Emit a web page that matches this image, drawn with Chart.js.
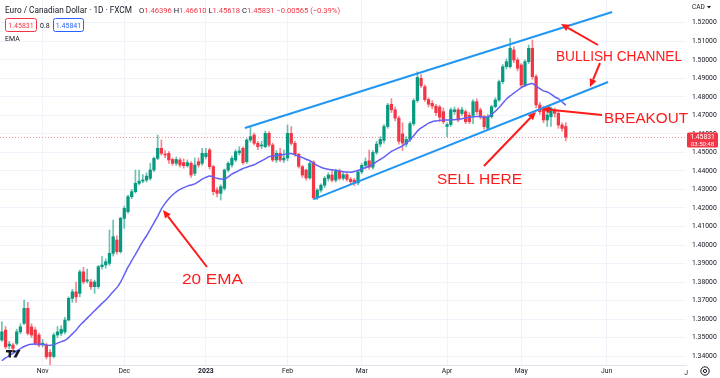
<!DOCTYPE html>
<html>
<head>
<meta charset="utf-8">
<script src="https://cdn.jsdelivr.net/npm/chart.js@4.4.1/dist/chart.umd.min.js"></script>
<style>
  html, body { margin: 0; padding: 0; background: #fff; }
  #wrap { width: 720px; height: 378px; }
</style>
</head>
<body>
<div id="wrap"><canvas id="fxChart" width="720" height="378"></canvas></div>
<script>
// EUR/CAD daily candles, one per weekday from 17 Oct 2022 (index 0) to 17 May 2023
const opens = [
  1.3487,1.3541,1.3455,1.3460,1.3469,1.3531,1.3577,1.3658,1.3558,1.3541,
  1.3514,1.3462,1.3459,1.3420,1.3398,1.3514,1.3523,1.3531,1.3595,1.3712,
  1.3747,1.3739,1.3855,1.3805,1.3801,1.3775,1.3775,1.3883,1.3892,1.3901,
  1.3955,1.4027,1.3964,1.4144,1.4180,1.4261,1.4288,1.4333,1.4345,1.4351,
  1.4360,1.4405,1.4468,1.4522,1.4490,1.4495,1.4462,1.4441,1.4459,1.4445,
  1.4428,1.4441,1.4387,1.4450,1.4441,1.4477,1.4513,1.4423,1.4297,1.4279,
  1.4306,1.4405,1.4432,1.4459,1.4498,1.4522,1.4450,1.4567,1.4594,1.4549,
  1.4535,1.4531,1.4603,1.4540,1.4459,1.4495,1.4459,1.4470,1.4603,1.4549,
  1.4490,1.4423,1.4405,1.4362,1.4448,1.4255,1.4296,1.4323,1.4360,1.4378,
  1.4350,1.4400,1.4360,1.4380,1.4355,1.4350,1.4335,1.4395,1.4430,1.4455,
  1.4420,1.4500,1.4545,1.4565,1.4640,1.4760,1.4730,1.4685,1.4600,1.4545,
  1.4570,1.4655,1.4780,1.4900,1.4855,1.4785,1.4765,1.4750,1.4745,1.4720,
  1.4640,1.4650,1.4720,1.4730,1.4710,1.4720,1.4700,1.4700,1.4774,1.4729,
  1.4693,1.4630,1.4693,1.4747,1.4783,1.4882,1.4963,1.4963,1.5053,1.4999,
  1.4972,1.4864,1.4990,1.5062,1.4909,1.4756,1.4738,1.4675,1.4693,1.4729,
  1.4711,1.4648,1.4640
];
const highs = [
  1.3585,1.3560,1.3480,1.3470,1.3545,1.3575,1.3703,1.3690,1.3575,1.3555,
  1.3525,1.3490,1.3470,1.3435,1.3525,1.3560,1.3565,1.3610,1.3720,1.3760,
  1.3800,1.3865,1.3880,1.3870,1.3815,1.3810,1.3890,1.3937,1.3925,1.4081,
  1.4135,1.4050,1.4150,1.4210,1.4270,1.4300,1.4405,1.4405,1.4380,1.4390,
  1.4441,1.4475,1.4593,1.4567,1.4510,1.4505,1.4470,1.4475,1.4470,1.4465,
  1.4460,1.4450,1.4470,1.4470,1.4522,1.4522,1.4522,1.4430,1.4310,1.4325,
  1.4410,1.4450,1.4480,1.4515,1.4531,1.4530,1.4575,1.4639,1.4605,1.4560,
  1.4560,1.4615,1.4612,1.4550,1.4510,1.4522,1.4513,1.4648,1.4640,1.4560,
  1.4495,1.4430,1.4410,1.4450,1.4455,1.4305,1.4330,1.4370,1.4390,1.4405,
  1.4410,1.4410,1.4395,1.4390,1.4365,1.4360,1.4405,1.4440,1.4470,1.4513,
  1.4510,1.4560,1.4585,1.4650,1.4765,1.4790,1.4745,1.4695,1.4660,1.4585,
  1.4665,1.4790,1.4935,1.4920,1.4865,1.4795,1.4780,1.4760,1.4755,1.4740,
  1.4660,1.4740,1.4745,1.4740,1.4745,1.4730,1.4715,1.4785,1.4790,1.4740,
  1.4700,1.4705,1.4755,1.4795,1.4890,1.4975,1.5005,1.5116,1.5070,1.5010,
  1.4980,1.5000,1.5080,1.5107,1.4920,1.4770,1.4750,1.4720,1.4745,1.4740,
  1.4725,1.4660,1.4661
];
const lows = [
  1.3480,1.3440,1.3440,1.3430,1.3460,1.3520,1.3570,1.3515,1.3500,1.3460,
  1.3450,1.3450,1.3385,1.3352,1.3390,1.3500,1.3510,1.3520,1.3590,1.3690,
  1.3690,1.3720,1.3790,1.3795,1.3760,1.3739,1.3765,1.3870,1.3875,1.3890,
  1.3940,1.3950,1.3955,1.4090,1.4170,1.4250,1.4280,1.4325,1.4335,1.4340,
  1.4350,1.4396,1.4460,1.4485,1.4470,1.4440,1.4430,1.4430,1.4420,1.4415,
  1.4420,1.4365,1.4375,1.4420,1.4430,1.4465,1.4410,1.4270,1.4260,1.4243,
  1.4295,1.4395,1.4420,1.4450,1.4486,1.4435,1.4440,1.4555,1.4540,1.4515,
  1.4520,1.4525,1.4530,1.4450,1.4445,1.4450,1.4445,1.4455,1.4540,1.4480,
  1.4415,1.4365,1.4350,1.4355,1.4245,1.4245,1.4285,1.4310,1.4345,1.4340,
  1.4340,1.4350,1.4350,1.4345,1.4330,1.4320,1.4325,1.4385,1.4410,1.4410,
  1.4410,1.4490,1.4530,1.4550,1.4630,1.4715,1.4670,1.4545,1.4510,1.4530,
  1.4560,1.4645,1.4770,1.4850,1.4775,1.4745,1.4735,1.4700,1.4665,1.4655,
  1.4585,1.4640,1.4705,1.4665,1.4700,1.4655,1.4655,1.4655,1.4705,1.4680,
  1.4625,1.4620,1.4685,1.4740,1.4775,1.4870,1.4950,1.4955,1.4985,1.4940,
  1.4850,1.4855,1.4980,1.4895,1.4740,1.4705,1.4660,1.4640,1.4640,1.4690,
  1.4630,1.4615,1.4562
];
const closes = [
  1.3531,1.3450,1.3465,1.3442,1.3531,1.3558,1.3658,1.3523,1.3514,1.3469,
  1.3459,1.3470,1.3396,1.3398,1.3514,1.3531,1.3545,1.3595,1.3712,1.3747,
  1.3720,1.3855,1.3801,1.3812,1.3774,1.3800,1.3883,1.3892,1.3910,1.3955,
  1.4045,1.3964,1.4144,1.4198,1.4261,1.4288,1.4333,1.4345,1.4351,1.4372,
  1.4405,1.4468,1.4522,1.4495,1.4486,1.4459,1.4441,1.4462,1.4432,1.4428,
  1.4445,1.4378,1.4432,1.4432,1.4495,1.4495,1.4423,1.4288,1.4279,1.4315,
  1.4405,1.4441,1.4468,1.4504,1.4508,1.4445,1.4567,1.4585,1.4549,1.4531,
  1.4540,1.4603,1.4540,1.4459,1.4495,1.4459,1.4470,1.4603,1.4549,1.4490,
  1.4425,1.4378,1.4362,1.4440,1.4255,1.4296,1.4323,1.4360,1.4378,1.4350,
  1.4400,1.4360,1.4380,1.4355,1.4342,1.4335,1.4395,1.4430,1.4450,1.4420,
  1.4500,1.4545,1.4570,1.4640,1.4755,1.4730,1.4685,1.4560,1.4550,1.4570,
  1.4655,1.4780,1.4905,1.4860,1.4785,1.4760,1.4750,1.4715,1.4690,1.4666,
  1.4650,1.4730,1.4730,1.4675,1.4730,1.4666,1.4666,1.4774,1.4720,1.4693,
  1.4639,1.4693,1.4747,1.4783,1.4882,1.4963,1.4990,1.5062,1.4999,1.4954,
  1.4864,1.4990,1.5062,1.4909,1.4756,1.4720,1.4675,1.4702,1.4738,1.4711,
  1.4648,1.4630,1.4583
];
// 20 EMA
const ema20 = [
  1.3375,1.3390,1.3403,1.3415,1.3428,1.3440,1.3452,1.3460,1.3464,1.3465,
  1.3464,1.3463,1.3460,1.3458,1.3462,1.3470,1.3478,1.3485,1.3500,1.3520,
  1.3540,1.3565,1.3585,1.3605,1.3625,1.3645,1.3665,1.3685,1.3703,1.3725,
  1.3748,1.3770,1.3800,1.3840,1.3880,1.3915,1.3950,1.3985,1.4020,1.4050,
  1.4085,1.4120,1.4155,1.4195,1.4225,1.4250,1.4270,1.4287,1.4300,1.4310,
  1.4318,1.4324,1.4330,1.4342,1.4356,1.4365,1.4372,1.4368,1.4360,1.4356,
  1.4356,1.4368,1.4383,1.4393,1.4403,1.4413,1.4420,1.4427,1.4433,1.4444,
  1.4454,1.4465,1.4477,1.4480,1.4483,1.4486,1.4489,1.4493,1.4494,1.4486,
  1.4479,1.4472,1.4463,1.4455,1.4441,1.4430,1.4420,1.4413,1.4409,1.4406,
  1.4403,1.4400,1.4396,1.4394,1.4393,1.4397,1.4402,1.4412,1.4418,1.4425,
  1.4435,1.4450,1.4462,1.4475,1.4490,1.4505,1.4515,1.4525,1.4535,1.4550,
  1.4567,1.4590,1.4615,1.4632,1.4645,1.4658,1.4666,1.4670,1.4673,1.4675,
  1.4675,1.4676,1.4677,1.4678,1.4682,1.4686,1.4690,1.4692,1.4694,1.4693,
  1.4690,1.4692,1.4705,1.4722,1.4742,1.4765,1.4788,1.4805,1.4820,1.4835,
  1.4850,1.4860,1.4868,1.4872,1.4858,1.4845,1.4832,1.4826,1.4815,1.4800,
  1.4790,1.4773,1.4755
];

// hand-drawn channel lines: [bar index, price]
const upperChannel = [[65.5, 1.4632], [164.5, 1.5258]];
const lowerChannel = [[84.1, 1.4248], [163.4, 1.4880]];

// time axis: bar index of the first weekday of each month
const monthIndex = [11, 33, 55, 77, 97, 120, 140, 163, 185];
const monthText = ['Nov', 'Dec', '2023', 'Feb', 'Mar', 'Apr', 'May', 'Jun', 'Jul'];
const priceTicks = [1.34,1.35,1.36,1.37,1.38,1.39,1.40,1.41,1.42,1.43,1.44,1.45,1.46,1.47,1.48,1.49,1.50,1.51,1.52];

const UP = '#089981', DOWN = '#f23645';
const TXT = '#131722';
const FONT = 'Roboto, "Open Sans", sans-serif';
const X_MAX = 184.4;

const bars = opens.map((o, i) => i);
const isUp = i => closes[i] >= opens[i];

function fitScaled(ctx, text, x, y, width, size) {
  ctx.font = size + 'px "Liberation Sans Narrow", "Liberation Sans", sans-serif';
  const w = ctx.measureText(text).width;
  ctx.save();
  ctx.translate(x, y);
  ctx.scale(width / w, 1);
  ctx.fillText(text, 0, 0);
  ctx.restore();
}

function arrow(ctx, x1, y1, x2, y2) {
  const a = Math.atan2(y2 - y1, x2 - x1), L = 8, W = 3.6;
  const bx = x2 - L * Math.cos(a), by = y2 - L * Math.sin(a);
  ctx.beginPath();
  ctx.moveTo(x1, y1);
  ctx.lineTo(bx, by);
  ctx.stroke();
  ctx.beginPath();
  ctx.moveTo(x2, y2);
  ctx.lineTo(bx - W * Math.sin(a), by + W * Math.cos(a));
  ctx.lineTo(bx + W * Math.sin(a), by - W * Math.cos(a));
  ctx.closePath();
  ctx.fill();
}

function box(ctx, x, y, w, h, color) {
  ctx.strokeStyle = color;
  ctx.lineWidth = 1;
  ctx.beginPath();
  ctx.roundRect(x + 0.5, y + 0.5, w, h, 2);
  ctx.stroke();
}

// scales must not reserve room for their own labels
function noPadding(s) {
  s.paddingTop = 0; s.paddingBottom = 0; s.paddingLeft = 0; s.paddingRight = 0;
}

const overlay = {
  id: 'overlay',
  beforeDatasetsDraw(chart) {
    const { ctx, chartArea: a, scales: { y } } = chart;
    const py = Math.round(y.getPixelForValue(closes[closes.length - 1])) + 0.5;
    ctx.save();
    ctx.strokeStyle = 'rgba(242,54,69,0.55)';
    ctx.setLineDash([1, 2]);
    ctx.lineWidth = 1;
    ctx.beginPath();
    ctx.moveTo(a.left, py);
    ctx.lineTo(a.right, py);
    ctx.stroke();
    ctx.restore();
  },
  afterDatasetsDraw(chart) {
    const { ctx } = chart;
    ctx.save();
    ctx.fillStyle = '#ff1a1a';
    ctx.strokeStyle = '#ff1a1a';
    ctx.lineWidth = 2;
    fitScaled(ctx, 'BULLISH CHANNEL', 556, 61, 126, 15.5);
    fitScaled(ctx, 'BREAKOUT', 604, 123, 84, 15.5);
    fitScaled(ctx, 'SELL HERE', 437, 184, 85, 15.5);
    fitScaled(ctx, '20 EMA', 182, 284, 61, 15.5);
    arrow(ctx, 598, 45, 561, 24);
    arrow(ctx, 600, 63, 590, 87);
    arrow(ctx, 602, 115, 542, 109);
    arrow(ctx, 484, 166, 536, 112);
    arrow(ctx, 207, 267, 163, 210);
    ctx.restore();
  },
  afterDraw(chart) {
    const { ctx, chartArea: a, scales: { x, y } } = chart;
    ctx.save();
    ctx.textBaseline = 'alphabetic';
    ctx.textAlign = 'left';

    // title + OHLC
    ctx.font = '8px ' + FONT;
    const title = 'Euro / Canadian Dollar \u00b7 1D \u00b7 FXCM';
    const size = 8 * 127 / ctx.measureText(title).width;
    ctx.font = size + 'px ' + FONT;
    ctx.fillStyle = TXT;
    ctx.fillText(title, 5, 13);
    let cx = 139;
    const parts = [['O', TXT], ['1.46396', DOWN], [' H', TXT], ['1.46610', DOWN], [' L', TXT],
      ['1.45618', DOWN], [' C', TXT], ['1.45831', DOWN], [' \u22120.00565 (\u22120.39%)', DOWN]];
    ctx.font = (size * 0.92) + 'px ' + FONT;
    parts.forEach(([t, c]) => { ctx.fillStyle = c; ctx.fillText(t, cx, 13); cx += ctx.measureText(t).width; });

    // value boxes
    ctx.font = '7px ' + FONT;
    ctx.textAlign = 'center';
    box(ctx, 5, 18, 31, 13, DOWN);
    ctx.fillStyle = DOWN;
    ctx.fillText('1.45831', 21, 27.5);
    box(ctx, 53, 18, 30, 13, '#2962ff');
    ctx.fillStyle = '#2962ff';
    ctx.fillText('1.45841', 68.5, 27.5);
    ctx.textAlign = 'left';
    ctx.fillStyle = TXT;
    ctx.fillText('0.8', 40, 27.5);
    ctx.fillText('EMA', 5, 41);

    // price scale currency
    ctx.font = '6.5px ' + FONT;
    ctx.fillText('CAD', 692, 9);
    ctx.beginPath();
    ctx.moveTo(707, 6); ctx.lineTo(711, 6); ctx.lineTo(709, 8.5); ctx.closePath(); ctx.fill();

    // last price tag
    const py = y.getPixelForValue(closes[closes.length - 1]);
    ctx.fillStyle = DOWN;
    ctx.beginPath();
    ctx.roundRect(687, py - 4.5, 31, 15, 1.5);
    ctx.fill();
    ctx.fillStyle = '#fff';
    ctx.textAlign = 'center';
    ctx.font = '6.8px ' + FONT;
    ctx.fillText('1.45831', 702.5, py + 2.2);
    ctx.font = '6px ' + FONT;
    ctx.fillText('03:50:48', 702.5, py + 9);

    // month label half hidden under the price scale
    ctx.save();
    ctx.beginPath();
    ctx.rect(a.left, a.bottom, a.right - a.left + 2, 13);
    ctx.clip();
    ctx.fillStyle = TXT;
    ctx.textAlign = 'left';
    ctx.font = '6.8px ' + FONT;
    monthIndex.forEach((m, k) => {
      if (m > X_MAX) ctx.fillText(monthText[k], x.getPixelForValue(m) - 4, a.bottom + 9.5);
    });
    ctx.restore();

    // settings gear
    ctx.strokeStyle = TXT;
    ctx.lineWidth = 1;
    ctx.beginPath(); ctx.arc(705, 371, 4.2, 0, Math.PI * 2); ctx.stroke();
    ctx.beginPath(); ctx.arc(705, 371, 1.6, 0, Math.PI * 2); ctx.stroke();

    // TV logo
    ctx.fillStyle = TXT;
    ctx.fillRect(6, 350, 6.5, 2.4);
    ctx.fillRect(8.6, 350, 2.4, 7.5);
    ctx.beginPath(); ctx.arc(14.2, 351.3, 1.3, 0, Math.PI * 2); ctx.fill();
    ctx.beginPath();
    ctx.moveTo(17.5, 350); ctx.lineTo(20.5, 350); ctx.lineTo(16.5, 357.5); ctx.lineTo(13.5, 357.5);
    ctx.closePath(); ctx.fill();
    ctx.restore();
  }
};

const ctx = document.getElementById('fxChart').getContext('2d');
new Chart(ctx, {
  type: 'bar',
  data: {
    datasets: [
      {
        type: 'line', order: 0,
        data: upperChannel.map(([i, p]) => ({ x: i, y: p })),
        borderColor: '#2196f3', borderWidth: 2, pointRadius: 0
      },
      {
        type: 'line', order: 0,
        data: lowerChannel.map(([i, p]) => ({ x: i, y: p })),
        borderColor: '#2196f3', borderWidth: 2, pointRadius: 0
      },
      {
        type: 'line', order: 1,
        data: ema20.map((v, i) => ({ x: i, y: v })),
        borderColor: '#6361f5', borderWidth: 1.5, pointRadius: 0, tension: 0.3
      },
      {
        order: 2, grouped: false, barThickness: 2.6, minBarLength: 1,
        data: bars.map(i => ({ x: i, y: [opens[i], closes[i]] })),
        backgroundColor: bars.map(i => isUp(i) ? UP : DOWN)
      },
      {
        order: 3, grouped: false, barThickness: 1,
        data: bars.map(i => ({ x: i, y: [lows[i], highs[i]] })),
        backgroundColor: bars.map(i => isUp(i) ? 'rgba(8,153,129,0.6)' : 'rgba(242,54,69,0.6)')
      }
    ]
  },
  options: {
    responsive: false,
    animation: false,
    devicePixelRatio: 1,
    events: [],
    layout: { padding: 0 },
    plugins: { legend: { display: false }, tooltip: { enabled: false } },
    scales: {
      x: {
        type: 'linear', min: -0.5, max: X_MAX, offset: false,
        afterFit(s) { s.height = 13; noPadding(s); },
        afterBuildTicks(s) { s.ticks = monthIndex.filter(m => m <= X_MAX).map(m => ({ value: m })); },
        ticks: {
          autoSkip: false, maxRotation: 0, padding: 2, color: TXT,
          font: c => ({ family: FONT, size: 6.8, weight: c.tick && c.tick.value === 55 ? 'bold' : 'normal' }),
          callback: v => monthText[monthIndex.indexOf(v)]
        },
        grid: { color: '#f0f3fa', drawTicks: false, offset: false },
        border: { display: true, color: '#e0e3eb' }
      },
      y: {
        type: 'linear', position: 'right', min: 1.3352, max: 1.5323,
        afterFit(s) { s.width = 34; noPadding(s); },
        afterBuildTicks(s) { s.ticks = priceTicks.map(v => ({ value: v })); },
        ticks: {
          padding: 6, color: TXT,
          font: { family: FONT, size: 6.8 },
          callback: v => v.toFixed(5)
        },
        grid: { color: '#f0f3fa', drawTicks: false },
        border: { display: false }
      }
    }
  },
  plugins: [overlay]
});
</script>
</body>
</html>
